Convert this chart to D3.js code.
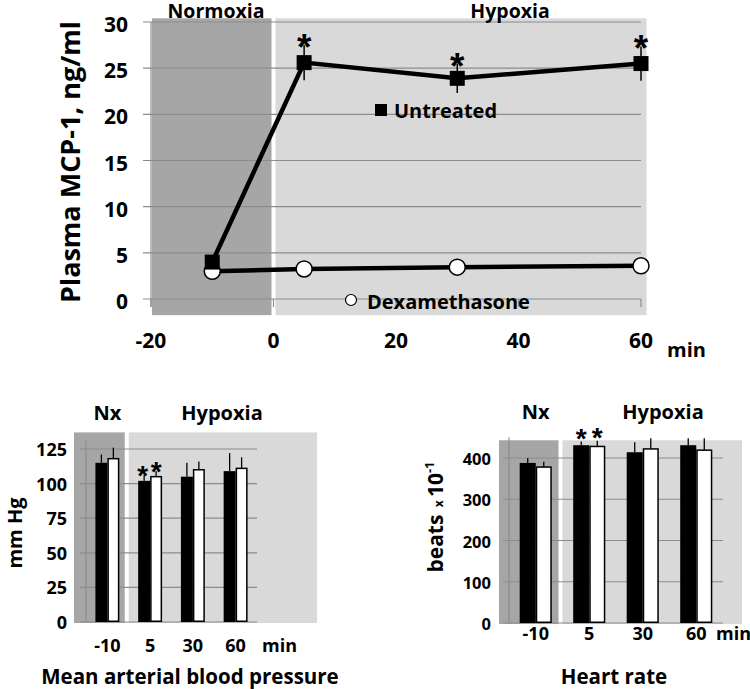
<!DOCTYPE html>
<html>
<head>
<meta charset="utf-8">
<script src="https://cdn.jsdelivr.net/npm/d3@7"></script>
<style>
  html, body { margin: 0; padding: 0; background: #fff; }
  svg text { font-family: "Open Sans", Lato, sans-serif; font-weight: 700; fill: #000; }
  svg text.ast { font-family: "Liberation Sans", Arial, sans-serif; font-weight: 700; }
</style>
</head>
<body>
<svg id="chart" width="750" height="689"></svg>
<script>
// ---------------- DATA ----------------
// Top panel: plasma MCP-1 (ng/ml)
const timePoints = [-10, 5, 30, 60];
const untreatedMCP = [4.0, 25.6, 23.9, 25.5];
const untreatedMCPErr = [0.0, 1.9, 1.6, 1.85];
const dexMCP = [3.0, 3.25, 3.45, 3.6];
const mcpSignificant = [false, true, true, true];
const mcpYTicks = [0, 5, 10, 15, 20, 25, 30];
const mcpXTicks = [-20, 0, 20, 40, 60];

// Bottom-left: mean arterial blood pressure (mm Hg)
const barCategories = ["-10", "5", "30", "60"];
const mapUntreated = [115, 102, 105, 109];
const mapUntreatedErr = [6, 4, 10, 13];
const mapDex = [118, 105, 110, 111];
const mapDexErr = [8, 4, 6, 8];
const mapSignificant = [false, true, false, false];
const mapYTicks = [0, 25, 50, 75, 100, 125];

// Bottom-right: heart rate (beats x 10^-1)
const hrUntreated = [388, 431, 414, 431];
const hrUntreatedErr = [12, 9, 24, 17];
const hrDex = [378, 428, 422, 419];
const hrDexErr = [13, 14, 26, 29];
const hrSignificant = [false, true, false, false];
const hrYTicks = [0, 100, 200, 300, 400];

// ---------------- STYLE ----------------
const DARK = "#a6a6a6", LIGHT = "#d9d9d9", GRID = "#8c8c8c";
const svg = d3.select("#chart");

// ================= TOP PANEL =================
(function () {
  const x = d3.scaleLinear().domain([-20, 60]).range([151, 641]);
  const y = d3.scaleLinear().domain([0, 30]).range([299, 22]);
  const g = svg.append("g");

  // background phases
  g.append("rect").attr("x", x(-20) + 1).attr("y", y(30.4))
    .attr("width", x(0) - 2 - (x(-20) + 1)).attr("height", y(-1.75) - y(30.4)).attr("fill", DARK);
  g.append("rect").attr("x", x(0) + 2).attr("y", y(30.4))
    .attr("width", x(60.9) - (x(0) + 2)).attr("height", y(-1.75) - y(30.4)).attr("fill", LIGHT);

  // gridlines
  g.selectAll(".grid").data(mcpYTicks).join("line")
    .attr("x1", x(-20) - 8).attr("x2", x(60))
    .attr("y1", d => y(d)).attr("y2", d => y(d))
    .attr("stroke", GRID).attr("stroke-width", 1.2);
  // y axis line
  g.append("line").attr("x1", x(-20)).attr("x2", x(-20)).attr("y1", y(30)).attr("y2", y(0) + 8)
    .attr("stroke", GRID).attr("stroke-width", 1.2);
  // x ticks
  g.selectAll(".xt").data(mcpXTicks).join("line")
    .attr("x1", d => x(d)).attr("x2", d => x(d)).attr("y1", y(0)).attr("y2", y(0) + 8)
    .attr("stroke", GRID).attr("stroke-width", 1.2);

  // tick labels
  g.selectAll(".yl").data(mcpYTicks).join("text")
    .attr("x", 128).attr("y", d => y(d) + 10).attr("text-anchor", "end")
    .attr("font-size", 21).text(d => d);
  g.selectAll(".xl").data(mcpXTicks).join("text")
    .attr("x", d => x(d)).attr("y", 348).attr("text-anchor", "middle")
    .attr("font-size", 21).text(d => d);
  g.append("text").attr("x", 667).attr("y", 357).attr("font-size", 20).text("min");

  // axis title
  g.append("text").attr("transform", "translate(80,162) rotate(-90)")
    .attr("text-anchor", "middle").attr("font-size", 27).text("Plasma MCP-1, ng/ml");

  // phase labels
  g.append("text").attr("x", 216).attr("y", 18).attr("text-anchor", "middle")
    .attr("font-size", 19.5).text("Normoxia");
  g.append("text").attr("x", 510).attr("y", 18).attr("text-anchor", "middle")
    .attr("font-size", 19.5).text("Hypoxia");

  const untreated = timePoints.map((t, i) => ({ t, v: untreatedMCP[i], e: untreatedMCPErr[i], s: mcpSignificant[i] }));
  const dex = timePoints.map((t, i) => ({ t, v: dexMCP[i] }));
  const line = d3.line().x(d => x(d.t)).y(d => y(d.v));

  // error bars
  g.selectAll(".err").data(untreated.filter(d => d.e > 0)).join("line")
    .attr("x1", d => x(d.t)).attr("x2", d => x(d.t))
    .attr("y1", d => y(d.v - d.e)).attr("y2", d => y(d.v + d.e))
    .attr("stroke", "#000").attr("stroke-width", 1.5);

  g.append("path").datum(dex).attr("d", line).attr("fill", "none").attr("stroke", "#000").attr("stroke-width", 4.5);
  g.append("path").datum(untreated).attr("d", line).attr("fill", "none").attr("stroke", "#000").attr("stroke-width", 4.5);

  g.selectAll(".dexpt").data(dex).join("circle")
    .attr("cx", d => x(d.t)).attr("cy", d => y(d.v)).attr("r", 8)
    .attr("fill", "#fff").attr("stroke", "#000").attr("stroke-width", 1.5);
  g.selectAll(".untpt").data(untreated).join("rect")
    .attr("x", d => x(d.t) - 7.5).attr("y", d => y(d.v) - 7.5)
    .attr("width", 15).attr("height", 15).attr("fill", "#000");

  // significance asterisks
  g.selectAll(".astT").data(untreated.filter(d => d.s)).join("text")
    .attr("class", "ast")
    .attr("x", d => x(d.t)).attr("y", d => y(d.v + d.e) + 15).attr("text-anchor", "middle")
    .attr("font-size", 37).text("*");

  // legend labels
  g.append("rect").attr("x", 375).attr("y", 104).attr("width", 12).attr("height", 12).attr("fill", "#000");
  g.append("text").attr("x", 394).attr("y", 118).attr("font-size", 20).text("Untreated");
  g.append("circle").attr("cx", 351).attr("cy", 300).attr("r", 5.5).attr("fill", "#fff").attr("stroke", "#000").attr("stroke-width", 1.2);
  g.append("text").attr("x", 367).attr("y", 309).attr("font-size", 20).text("Dexamethasone");
})();

// ================= BAR PANELS =================
function barPanel(opt) {
  const g = svg.append("g");
  const x = d3.scaleBand().domain(barCategories).range(opt.xRange);
  const y = d3.scaleLinear().domain([0, opt.yMax]).range(opt.yRange);
  const bw = x.bandwidth() * opt.barFrac;
  const cx = c => x(c) + x.bandwidth() / 2;
  const x0 = opt.xRange[0], x1 = opt.xRange[1];

  // phase backgrounds
  g.append("rect").attr("x", x0 - opt.bandLeftPad).attr("y", y(opt.bandTop))
    .attr("width", x(barCategories[1]) - 4 - (x0 - opt.bandLeftPad))
    .attr("height", y(0) - y(opt.bandTop) + 1).attr("fill", DARK);
  g.append("rect").attr("x", x(barCategories[1])).attr("y", y(opt.bandTop))
    .attr("width", x1 + opt.bandRightPad - x(barCategories[1]))
    .attr("height", y(0) - y(opt.bandTop) + 1).attr("fill", LIGHT);

  // gridlines and axis
  g.selectAll(".grid").data(opt.ticks).join("line")
    .attr("x1", x0 - 6).attr("x2", x1).attr("y1", d => y(d)).attr("y2", d => y(d))
    .attr("stroke", GRID).attr("stroke-width", 1.2);
  g.append("line").attr("x1", x0).attr("x2", x0).attr("y1", y(opt.axisTop)).attr("y2", y(0))
    .attr("stroke", GRID).attr("stroke-width", 1.2);

  const data = barCategories.map((c, i) => ({
    c, a: opt.a[i], ae: opt.ae[i], b: opt.b[i], be: opt.be[i], s: opt.sig[i]
  }));

  // error bars (upward)
  g.selectAll(".ea").data(data).join("line")
    .attr("x1", d => cx(d.c) - bw / 2).attr("x2", d => cx(d.c) - bw / 2)
    .attr("y1", d => y(d.a)).attr("y2", d => y(d.a + d.ae)).attr("stroke", "#000").attr("stroke-width", 1.3);
  g.selectAll(".eb").data(data).join("line")
    .attr("x1", d => cx(d.c) + bw / 2).attr("x2", d => cx(d.c) + bw / 2)
    .attr("y1", d => y(d.b)).attr("y2", d => y(d.b + d.be)).attr("stroke", "#000").attr("stroke-width", 1.3);

  // bars
  g.selectAll(".ba").data(data).join("rect")
    .attr("x", d => cx(d.c) - bw).attr("y", d => y(d.a)).attr("width", bw).attr("height", d => y(0) - y(d.a))
    .attr("fill", "#000");
  g.selectAll(".bb").data(data).join("rect")
    .attr("x", d => cx(d.c) + 0.75).attr("y", d => y(d.b)).attr("width", bw - 1.5).attr("height", d => y(0) - y(d.b) - 0.75)
    .attr("fill", "#fff").attr("stroke", "#000").attr("stroke-width", 1.5);

  // asterisks
  const sig = data.filter(d => d.s);
  g.selectAll(".aa").data(sig).join("text").attr("class", "ast")
    .attr("x", d => cx(d.c) - bw / 2 - opt.astSpread).attr("y", d => y(d.a + d.ae) + opt.astOff).attr("text-anchor", "middle")
    .attr("font-size", 28).text("*");
  g.selectAll(".ab").data(sig).join("text").attr("class", "ast")
    .attr("x", d => cx(d.c) + bw / 2).attr("y", d => y(d.b + d.be) + opt.astOff).attr("text-anchor", "middle")
    .attr("font-size", 28).text("*");

  // tick labels
  g.selectAll(".yl").data(opt.ticks).join("text")
    .attr("x", opt.yLabelX).attr("y", d => y(d) + 7).attr("text-anchor", "end")
    .attr("font-size", opt.yTickSize).text(d => d);
  g.selectAll(".xl").data(barCategories).join("text")
    .attr("x", d => cx(d)).attr("y", opt.xLabelY).attr("text-anchor", "middle")
    .attr("font-size", 18).text(d => d);
  g.append("text").attr("x", opt.minX).attr("y", opt.xLabelY).attr("font-size", 18).text("min");

  // phase labels
  g.append("text").attr("x", cx(barCategories[0])).attr("y", opt.phaseY).attr("text-anchor", "middle").attr("font-size", 20).text("Nx");
  g.append("text").attr("x", opt.hypoxiaX).attr("y", opt.phaseY).attr("text-anchor", "middle").attr("font-size", 20).text("Hypoxia");

  // title
  g.append("text").attr("x", opt.titleX).attr("y", 684).attr("text-anchor", "middle").attr("font-size", 20.5).text(opt.title);
  return g;
}

const gMap = barPanel({
  xRange: [86, 257], yRange: [622, 449], yMax: 125, ticks: mapYTicks, yTickSize: 18,
  barFrac: 0.28, bandTop: 137, axisTop: 131, bandLeftPad: 12, bandRightPad: 60,
  a: mapUntreated, ae: mapUntreatedErr, b: mapDex, be: mapDexErr, sig: mapSignificant,
  astOff: 10, astSpread: 1.5, yLabelX: 67, xLabelY: 652, minX: 262, phaseY: 420, hypoxiaX: 222,
  titleX: 190, title: "Mean arterial blood pressure"
});
gMap.append("text").attr("transform", "translate(22,533) rotate(-90)").attr("text-anchor", "middle")
  .attr("font-size", 20).text("mm Hg");

const gHr = barPanel({
  xRange: [509, 723], yRange: [623, 458], yMax: 400, ticks: hrYTicks, yTickSize: 16.5,
  barFrac: 0.3, bandTop: 443, axisTop: 450, bandLeftPad: 10, bandRightPad: 19,
  a: hrUntreated, ae: hrUntreatedErr, b: hrDex, be: hrDexErr, sig: hrSignificant,
  astOff: 6, astSpread: 0, yLabelX: 491, xLabelY: 640, minX: 716, phaseY: 419, hypoxiaX: 663,
  titleX: 614, title: "Heart rate"
});
const bl = gHr.append("text").attr("transform", "translate(443,517) rotate(-90)").attr("text-anchor", "middle");
bl.append("tspan").attr("font-size", 21).text("beats ");
bl.append("tspan").attr("font-size", 12).attr("dx", 2).text("x ");
bl.append("tspan").attr("font-size", 21).text("10");
bl.append("tspan").attr("font-size", 13).attr("dy", -9).text("-1");
</script>
</body>
</html>
